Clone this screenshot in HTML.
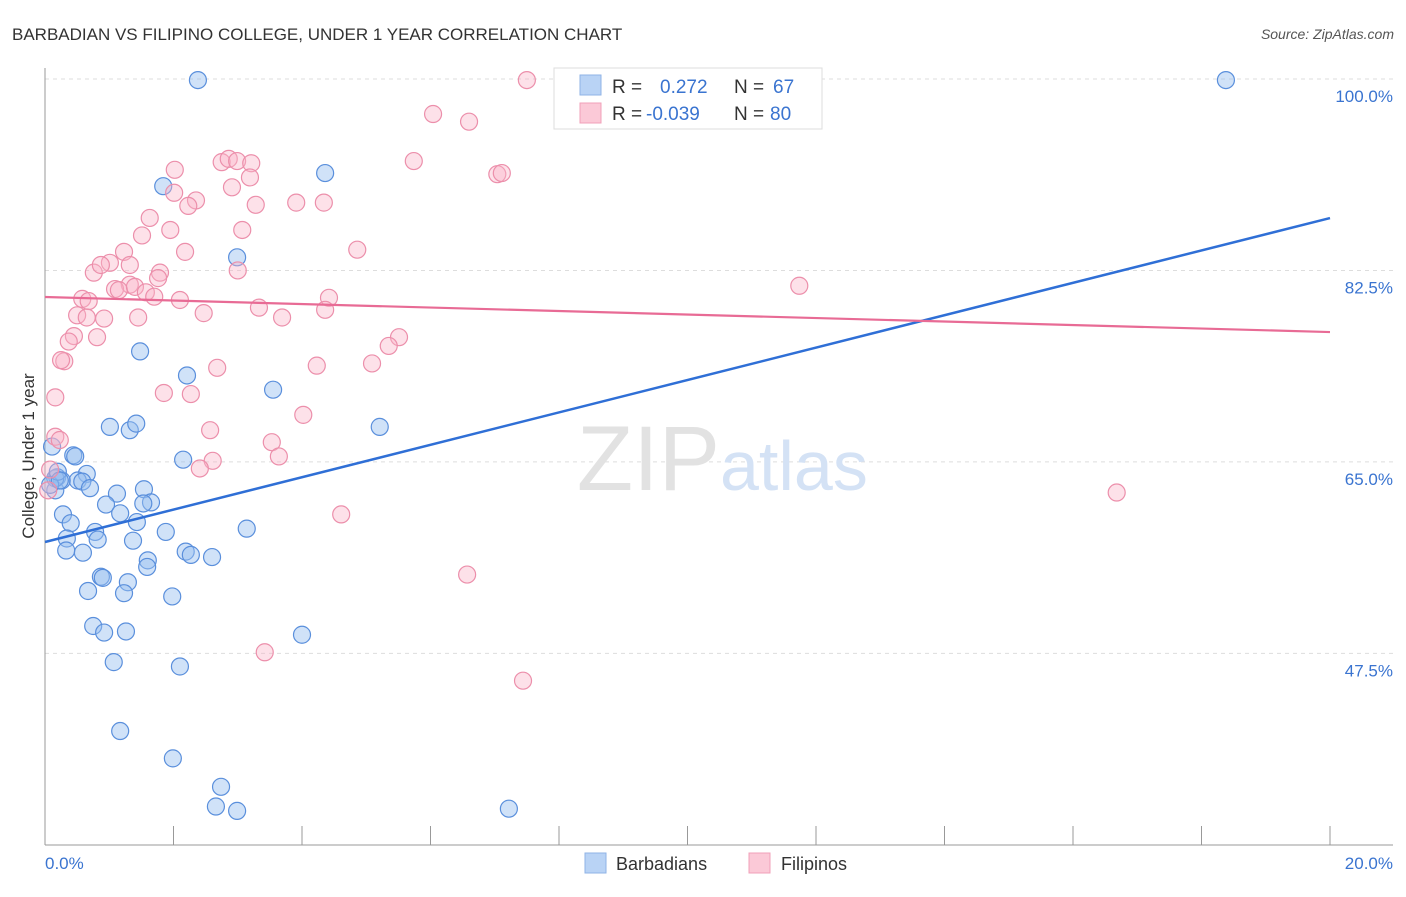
<!DOCTYPE html>
<html><head><meta charset="utf-8"><style>
body{margin:0;background:#fff;font-family:"Liberation Sans",sans-serif;}
svg text{font-family:"Liberation Sans",sans-serif;}
</style></head><body>
<svg id="chart" width="1406" height="892" viewBox="0 0 1406 892" xmlns="http://www.w3.org/2000/svg">
<text x="12" y="40" font-size="17" fill="#333">BARBADIAN VS FILIPINO COLLEGE, UNDER 1 YEAR CORRELATION CHART</text>
<text x="1394" y="39" font-size="14" fill="#555" text-anchor="end" font-style="italic">Source: ZipAtlas.com</text>
<g id="grid"></g>
<g id="axes"></g>
<text x="720" y="490" font-size="92" fill="#e2e2e2" text-anchor="end" font-family="Liberation Serif">ZIP</text>
<text x="720" y="490" font-size="70" fill="#d4e2f5">atlas</text>
<g id="pts"></g>
<g id="lines"></g>
<text transform="translate(34,456) rotate(-90)" font-size="17" fill="#333" text-anchor="middle">College, Under 1 year</text>
<text x="45" y="869" font-size="17" fill="#3a74d0">0.0%</text>
<text x="1393" y="869" font-size="17" fill="#3a74d0" text-anchor="end">20.0%</text>
<g>
<rect x="554" y="68" width="268" height="61" fill="#fff" stroke="#ddd"/>
<rect x="580" y="75" width="21" height="20" fill="#b9d3f5" stroke="#8fb3e6"/>
<rect x="580" y="103" width="21" height="20" fill="#fbc9d7" stroke="#f0a0b8"/>
<text x="612" y="93" font-size="19" fill="#333">R =</text>
<text x="660" y="93" font-size="19" fill="#3a74d0">0.272</text>
<text x="734" y="93" font-size="19" fill="#333">N =</text>
<text x="773" y="93" font-size="19" fill="#3a74d0">67</text>
<text x="612" y="120" font-size="19" fill="#333">R =</text>
<text x="646" y="120" font-size="19" fill="#3a74d0">-0.039</text>
<text x="734" y="120" font-size="19" fill="#333">N =</text>
<text x="770" y="120" font-size="19" fill="#3a74d0">80</text>
</g>
<g>
<rect x="585" y="853" width="21" height="20" fill="#b9d3f5" stroke="#8fb3e6"/>
<text x="616" y="870" font-size="18" fill="#333">Barbadians</text>
<rect x="749" y="853" width="21" height="20" fill="#fbc9d7" stroke="#f0a0b8"/>
<text x="781" y="870" font-size="18" fill="#333">Filipinos</text>
</g>
</svg>
<script>
const yTicks=[100,82.5,65,47.5];
const yTickLabels=["100.0%","82.5%","65.0%","47.5%"];
const xTicks=[0,2,4,6,8,10,12,14,16,18,20];
const blueX=[2.38,18.38,1.84,4.36,2.99,1.48,2.21,3.55,1.01,1.32,1.42,5.21,0.11,0.44,0.47,2.15,0.65,0.19,0.51,0.58,0.70,0.16,0.26,1.12,1.54,1.65,1.53,0.95,1.17,0.28,0.40,1.43,0.78,0.82,0.34,1.88,3.14,1.37,1.60,1.59,2.19,2.27,2.60,0.33,0.59,0.87,0.90,1.29,0.67,1.23,1.98,0.75,0.92,1.26,4.00,1.07,2.10,1.17,1.99,2.74,2.66,2.99,7.22,0.16,0.08,0.20,0.23];
const blueY=[99.9,99.9,90.2,91.4,83.7,75.1,72.9,71.6,68.2,67.9,68.5,68.2,66.4,65.6,65.5,65.2,63.9,63.6,63.3,63.2,62.6,62.4,63.3,62.1,62.5,61.3,61.2,61.1,60.3,60.2,59.4,59.5,58.6,57.9,58.0,58.6,58.9,57.8,56.0,55.4,56.8,56.5,56.3,56.9,56.7,54.5,54.4,54.0,53.2,53.0,52.7,50.0,49.4,49.5,49.2,46.7,46.3,40.4,37.9,35.3,33.5,33.1,33.3,63.5,62.9,64.1,63.3];
const pinkX=[7.50,6.04,6.60,5.74,7.04,7.11,2.02,2.75,2.86,2.99,3.21,3.19,2.91,2.01,2.35,2.23,3.28,3.91,4.34,1.63,1.95,1.51,3.07,2.18,4.86,1.23,1.01,1.32,3.00,0.76,0.87,1.79,1.76,1.32,1.09,1.15,1.40,1.57,1.70,2.10,0.58,0.68,11.74,4.42,4.36,3.33,2.47,3.69,0.50,0.92,0.65,1.45,0.45,0.37,0.81,5.51,5.35,0.30,0.25,2.68,4.23,5.09,0.16,1.85,2.27,4.02,0.16,0.23,2.57,3.53,3.64,2.61,2.41,16.68,4.61,6.57,3.42,7.44,0.05,0.08];
const pinkY=[99.9,96.8,96.1,92.5,91.3,91.4,91.7,92.4,92.7,92.5,92.3,91.0,90.1,89.6,88.9,88.4,88.5,88.7,88.7,87.3,86.2,85.7,86.2,84.2,84.4,84.2,83.2,83.0,82.5,82.3,83.0,82.3,81.8,81.2,80.8,80.7,81.0,80.5,80.1,79.8,79.9,79.7,81.1,80.0,78.9,79.1,78.6,78.2,78.4,78.1,78.2,78.2,76.5,76.0,76.4,76.4,75.6,74.2,74.3,73.6,73.8,74.0,70.9,71.3,71.2,69.3,67.3,67.0,67.9,66.8,65.5,65.1,64.4,62.2,60.2,54.7,47.6,45.0,62.4,64.3];
const blueTrend=[57.68,87.29];
const pinkTrend=[80.07,76.87];
const NS="http://www.w3.org/2000/svg";
const X=v=>45+v*64.25, Y=v=>79+(100-v)*10.94;
function mk(t,a,p){const e=document.createElementNS(NS,t);for(const k in a)e.setAttribute(k,a[k]);p.appendChild(e);return e;}
const grid=document.getElementById('grid'),axes=document.getElementById('axes'),pts=document.getElementById('pts'),lines=document.getElementById('lines');
yTicks.forEach((t,i)=>{
 const l=mk('line',{x1:45,x2:1393,y1:Y(t),y2:Y(t),stroke:'#ddd','stroke-dasharray':'4,4'},grid);
 
 
 const tx=mk('text',{x:1393,y:Y(t)+23,'font-size':17,fill:'#3a74d0','text-anchor':'end'},grid);
 tx.textContent=yTickLabels[i];
 
 
});
const ya=mk('line',{x1:45,x2:45,y1:68,y2:845,stroke:'#999'},axes);


const xa=mk('line',{x1:45,x2:1393,y1:845,y2:845,stroke:'#999'},axes);


xTicks.forEach(t=>{
 const l=mk('line',{x1:X(t),x2:X(t),y1:826,y2:845,stroke:'#999'},axes);
 
 
});
blueX.forEach((v,i)=>{
 const c=mk('circle',{cx:X(v),cy:Y(blueY[i]),r:8.5,fill:'rgba(150,190,240,0.45)',stroke:'#5a8fdc','stroke-width':1.2},pts);
 
 
});
pinkX.forEach((v,i)=>{
 const c=mk('circle',{cx:X(v),cy:Y(pinkY[i]),r:8.5,fill:'rgba(250,180,200,0.4)',stroke:'#ec8fab','stroke-width':1.2},pts);
 
 
});
const bl=mk('line',{x1:X(0),x2:X(20),y1:Y(blueTrend[0]),y2:Y(blueTrend[1]),stroke:'#2f6fd6','stroke-width':2.5},lines);


const pl=mk('line',{x1:X(0),x2:X(20),y1:Y(pinkTrend[0]),y2:Y(pinkTrend[1]),stroke:'#e86b95','stroke-width':2.2},lines);


</script>
</body></html>
